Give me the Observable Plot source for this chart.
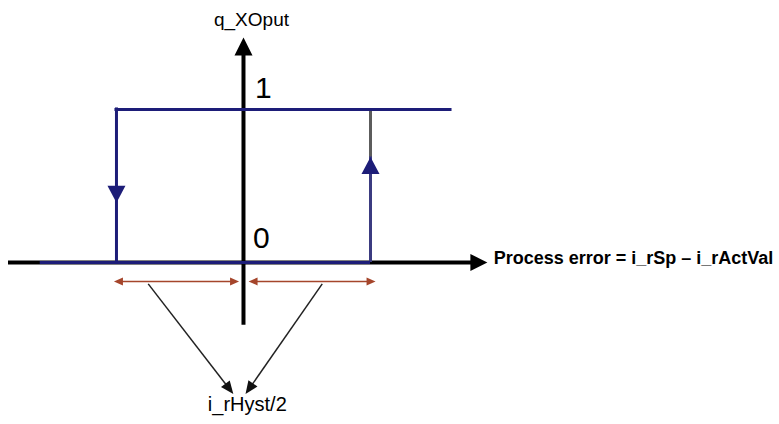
<!DOCTYPE html>
<html>
<head>
<meta charset="utf-8">
<script src="https://cdn.jsdelivr.net/npm/d3@7"></script>
<script src="https://cdn.jsdelivr.net/npm/@observablehq/plot@0.6"></script>
<style>
  html, body { margin: 0; padding: 0; background: #fff; overflow: hidden; }
  #chart svg { display: block; }
</style>
</head>
<body>
<div id="chart"></div>
<script>
// ---- diagram values (process error in units of i_rHyst/2, output 0/1) ----
const hystThresholds = [-1, 1];          // switch-off / switch-on points (±i_rHyst/2)
const outputLevels = [0, 1];             // q_xOput levels
const errorAxisExtent = [-1.85, 1.92];   // horizontal axis (process error)
const outputAxisExtent = [-0.41, 1.47];  // vertical axis (q_xOput)
const highBranch = [-1, 1.63];           // output = 1 branch extent
const lowBranch = [-1.6, 1];             // output = 0 branch extent
const transitionArrowY = [0.39, 0.69];   // arrow tips on falling / rising edge
const dimLineY = -0.124;                 // i_rHyst/2 dimension lines
const dimSpans = [[-1.02, -0.035], [0.04, 1.04]];
const pointerStarts = [[-0.75, -0.14], [0.62, -0.14]];
const pointerEnds = [[-0.08, -0.86], [0.016, -0.86]];
const labels = [
  {text: "q_XOput", x: 0.063, y: 1.585, anchor: "middle", size: 19, weight: "normal"},
  {text: "1", x: 0.09, y: 1.14, anchor: "start", size: 30, weight: "normal"},
  {text: "0", x: 0.075, y: 0.16, anchor: "start", size: 30, weight: "normal"},
  {text: "Process error = i_rSp \u2013 i_rActVal", x: 1.97, y: 0.03, anchor: "start", size: 18, weight: "bold"},
  {text: "i_rHyst/2", x: 0.03, y: -0.93, anchor: "middle", size: 20, weight: "normal"}
];

const W = 779, H = 424;
const xDomain = [-1.913, 4.22];
const yDomain = [-1.059, 1.712];
const xs = Plot.scale({x: {domain: xDomain, range: [0, W]}});
const ys = Plot.scale({y: {domain: yDomain, range: [H, 0]}});

const NAVY = "#1d1d78", GRAY = "#5c5c5c", RED = "#a5452b", BLACK = "#000";

const spike = {
  draw(ctx, l, r) { ctx.moveTo(-r, 0); ctx.lineTo(0, -l); ctx.lineTo(r, 0); ctx.closePath(); }
};

function angle(p, q) {
  const dx = xs.apply(q[0]) - xs.apply(p[0]);
  const dy = ys.apply(q[1]) - ys.apply(p[1]);
  return Math.atan2(dx, -dy) * 180 / Math.PI;
}
function backOff(p, q, px) {
  const x1 = xs.apply(p[0]), y1 = ys.apply(p[1]);
  const x2 = xs.apply(q[0]), y2 = ys.apply(q[1]);
  const L = Math.hypot(x2 - x1, y2 - y1);
  return [xs.invert(x2 - (x2 - x1) * px / L), ys.invert(y2 - (y2 - y1) * px / L)];
}

const heads = [];
heads.push({x: 0, y: outputAxisExtent[1], rot: 0, len: 18, r: 9, c: BLACK});
heads.push({x: errorAxisExtent[1], y: 0, rot: 90, len: 17, r: 8.5, c: BLACK});
heads.push({x: hystThresholds[0], y: transitionArrowY[0], rot: 180, len: 17, r: 9, c: NAVY});
heads.push({x: hystThresholds[1], y: transitionArrowY[1], rot: 0, len: 17, r: 9, c: NAVY});
for (const [a, b] of dimSpans) {
  heads.push({x: a, y: dimLineY, rot: 270, len: 9, r: 4, c: RED});
  heads.push({x: b, y: dimLineY, rot: 90, len: 9, r: 4, c: RED});
}
const pointers = pointerStarts.map((s, i) => {
  const e = pointerEnds[i];
  const b = backOff(s, e, 6);
  heads.push({x: e[0], y: e[1], rot: angle(s, e), len: 13, r: 5.5, c: "#111"});
  return {x1: s[0], y1: s[1], x2: b[0], y2: b[1]};
});

const xAxisEnd = xs.invert(xs.apply(errorAxisExtent[1]) - 15);
const yAxisEnd = ys.invert(ys.apply(outputAxisExtent[1]) + 16);

const chart = Plot.plot({
  width: W, height: H,
  margin: 0,
  x: {domain: xDomain, axis: null},
  y: {domain: yDomain, axis: null},
  style: {background: "#fff"},
  marks: [
    Plot.ruleY([0], {x1: errorAxisExtent[0], x2: xAxisEnd, stroke: BLACK, strokeWidth: 4}),
    Plot.ruleX([0], {y1: outputAxisExtent[0], y2: yAxisEnd, stroke: BLACK, strokeWidth: 4}),
    Plot.ruleX([hystThresholds[1]], {y1: outputLevels[0], y2: outputLevels[1], stroke: GRAY, strokeWidth: 3}),
    Plot.ruleX([hystThresholds[1]], {y1: outputLevels[0], y2: transitionArrowY[1], stroke: "#3b3b80", strokeWidth: 3}),
    Plot.ruleY([outputLevels[0]], {x1: lowBranch[0], x2: lowBranch[1], stroke: NAVY, strokeWidth: 3}),
    Plot.ruleY([outputLevels[1]], {x1: highBranch[0], x2: highBranch[1], stroke: NAVY, strokeWidth: 3, strokeLinecap: "square"}),
    Plot.ruleX([hystThresholds[0]], {y1: outputLevels[0], y2: outputLevels[1], stroke: NAVY, strokeWidth: 3, strokeLinecap: "square"}),
    Plot.ruleY(dimSpans, {y: () => dimLineY, x1: d => d[0] + 0.04, x2: d => d[1] - 0.04, stroke: RED, strokeWidth: 1.6}),
    Plot.link(pointers, {x1: "x1", y1: "y1", x2: "x2", y2: "y2", stroke: "#222", strokeWidth: 1.5}),
    ...heads.map(h => Plot.vector([h], {x: "x", y: "y", rotate: "rot", length: h.len, r: h.r, anchor: "end",
      shape: spike, fill: h.c, stroke: "none"})),
    ...labels.map(l => Plot.text([l], {x: "x", y: "y", text: "text", textAnchor: l.anchor,
      fontSize: l.size, fontWeight: l.weight, fill: "#000",
      fontFamily: "Liberation Sans, Arial, Helvetica, sans-serif"}))
  ]
});
document.getElementById("chart").append(chart);
</script>
</body>
</html>
